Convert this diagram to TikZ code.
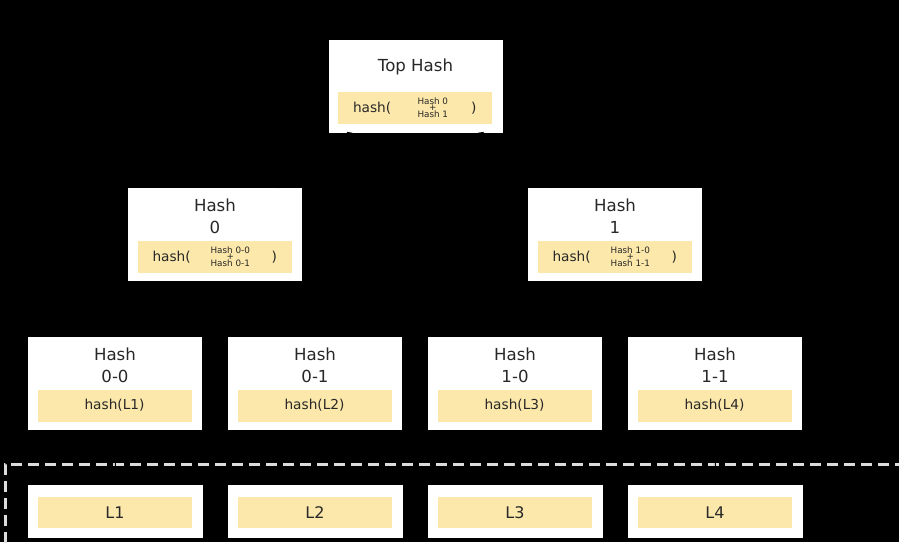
\documentclass[tikz,border=0pt]{standalone}
\usepackage{fontspec}
\setmainfont{DejaVu Sans}
\usetikzlibrary{arrows,positioning}
\definecolor{hashyellow}{RGB}{252,232,170}
\definecolor{hashtext}{RGB}{40,40,40}
\definecolor{dashgray}{RGB}{220,220,220}
\tikzstyle{hbox}=[rectangle,fill=white,minimum width=174pt,minimum height=93pt,inner sep=0pt]
\tikzstyle{lbox}=[rectangle,fill=white,minimum width=175pt,minimum height=53pt,inner sep=0pt]
\tikzstyle{ybox}=[rectangle,fill=hashyellow,minimum width=154pt,minimum height=32pt,inner sep=0pt]
\tikzstyle{title}=[text=hashtext,align=center,inner sep=0pt,font=\fontsize{16.6}{22}\selectfont]
\tikzstyle{htext}=[text=hashtext,inner sep=0pt,font=\fontsize{13.7}{16}\selectfont]
\tikzstyle{ltext}=[text=hashtext,inner sep=0pt,font=\fontsize{16}{18}\selectfont]
\tikzstyle{small}=[text=hashtext,align=center,inner sep=0pt,font=\fontsize{8.8}{13}\selectfont]

\begin{document}
\begin{tikzpicture}[x=1pt,y=-1pt]
\fill[black] (0,0) rectangle (899,542);
\useasboundingbox (0,0) rectangle (899,542);
% top level
\node[hbox] (T) at (415.5,86) {};
\node[title] (Tt) at (415.5,67) {Top Hash};
\node[ybox] (Ty) at (415,108) {};
\node[htext,right=15pt of Ty.west,anchor=west] (Th) {hash(};
\node[small] (Ts) at ([xshift=95pt]Ty.west) {Hash 0\\Hash 1};
\node[small] (Tp) at (Ts) {+};
\node[htext] (Tc) at ([xshift=136pt]Ty.west) {)};
% level 1
\node[hbox] (H0) at (215,234.5) {};
\node[title] (H0t) at (215,216) {Hash\\0};
\node[ybox] (H0y) at (214.5,257) {};
\node[htext,right=15pt of H0y.west,anchor=west] (H0h) {hash(};
\node[small] (H0s) at ([xshift=93pt]H0y.west) {Hash 0-0\\Hash 0-1};
\node[small] (H0p) at (H0s) {+};
\node[htext] (H0c) at ([xshift=137pt]H0y.west) {)};
\node[hbox] (H1) at (615,234.5) {};
\node[title] (H1t) at (615,216) {Hash\\1};
\node[ybox] (H1y) at (614.5,257) {};
\node[htext,right=15pt of H1y.west,anchor=west] (H1h) {hash(};
\node[small] (H1s) at ([xshift=93pt]H1y.west) {Hash 1-0\\Hash 1-1};
\node[small] (H1p) at (H1s) {+};
\node[htext] (H1c) at ([xshift=137pt]H1y.west) {)};
% level 2
\node[hbox] (H00) at (115,383.5) {};
\node[title] (H00t) at (115,365) {Hash\\0-0};
\node[ybox] (H00y) at (114.5,405.5) {};
\node[htext] (H00h) at (H00y) {hash(L1)};
\node[hbox] (H01) at (315,383.5) {};
\node[title] (H01t) at (315,365) {Hash\\0-1};
\node[ybox] (H01y) at (314.5,405.5) {};
\node[htext] (H01h) at (H01y) {hash(L2)};
\node[hbox] (H10) at (515,383.5) {};
\node[title] (H10t) at (515,365) {Hash\\1-0};
\node[ybox] (H10y) at (514.5,405.5) {};
\node[htext] (H10h) at (H10y) {hash(L3)};
\node[hbox] (H11) at (715,383.5) {};
\node[title] (H11t) at (715,365) {Hash\\1-1};
\node[ybox] (H11y) at (714.5,405.5) {};
\node[htext] (H11h) at (H11y) {hash(L4)};
% data blocks
\begin{scope}
\clip (0,0) rectangle (899,542);
\draw[dashgray,line width=3pt,dash pattern=on 11pt off 6pt] (5,560) -- (5,464) -- (910,464);
\end{scope}
\node[lbox] (L1) at (115.5,511.5) {};
\node[ybox,minimum height=31pt] (L1y) at (115,512.5) {};
\node[ltext] (L1t) at (L1y) {L1};
\node[lbox] (L2) at (315.5,511.5) {};
\node[ybox,minimum height=31pt] (L2y) at (315,512.5) {};
\node[ltext] (L2t) at (L2y) {L2};
\node[lbox] (L3) at (515.5,511.5) {};
\node[ybox,minimum height=31pt] (L3y) at (515,512.5) {};
\node[ltext] (L3t) at (L3y) {L3};
\node[lbox] (L4) at (715.5,511.5) {};
\node[ybox,minimum height=31pt] (L4y) at (715,512.5) {};
\node[ltext] (L4t) at (L4y) {L4};
\path[->,draw=black,line width=1pt,>=angle 90]
(L1) edge (H00)
(L2) edge (H01)
(L3) edge (H10)
(L4) edge (H11)
(H00) edge (H0)
(H01) edge (H0)
(H10) edge (H1)
(H11) edge (H1)
(H0) edge (T)
(H1) edge (T);
\end{tikzpicture}
\end{document}
